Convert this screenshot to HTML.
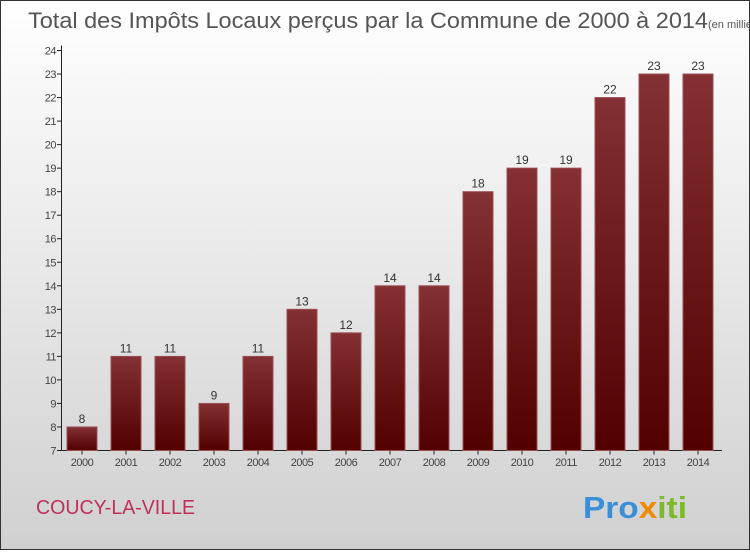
<!DOCTYPE html>
<html><head><meta charset="utf-8"><style>
body{margin:0;width:750px;height:550px;overflow:hidden;font-family:"Liberation Sans",sans-serif}
</style></head><body>
<svg width="750" height="550" xmlns="http://www.w3.org/2000/svg">
<defs>
<linearGradient id="bg" x1="0" y1="0" x2="0" y2="1"><stop offset="0" stop-color="#ffffff"/><stop offset="1" stop-color="#d0d0d0"/></linearGradient>
<linearGradient id="bar" x1="0" y1="0" x2="0" y2="1"><stop offset="0" stop-color="#843034"/><stop offset="1" stop-color="#520000"/></linearGradient>
</defs>
<rect x="0.5" y="0.5" width="749" height="549" fill="url(#bg)" stroke="#333"/>
<text x="28" y="28" font-size="22" fill="#555"><tspan textLength="680" lengthAdjust="spacingAndGlyphs">Total des Impôts Locaux perçus par la Commune de 2000 à 2014</tspan><tspan font-size="11">(en milliers d'€)</tspan></text>
<g id="axes"></g><g id="bars"></g>
<text x="36" y="514" font-size="20" fill="#c0305a" textLength="159" lengthAdjust="spacingAndGlyphs">COUCY-LA-VILLE</text>
<text x="583" y="518" font-size="31" font-weight="bold" textLength="104" lengthAdjust="spacingAndGlyphs"><tspan fill="#3a8fd8">Pro</tspan><tspan fill="#f08a00">x</tspan><tspan fill="#7cba2a">iti</tspan></text>
</svg>
<script>
const categories=["2000","2001","2002","2003","2004","2005","2006","2007","2008","2009","2010","2011","2012","2013","2014"];
const values=[8,11,11,9,11,13,12,14,14,18,19,19,22,23,23];
const yTicks=[7,8,9,10,11,12,13,14,15,16,17,18,19,20,21,22,23,24];
const NS="http://www.w3.org/2000/svg";
const y0=450.5,yMin=7,yMax=24,yTop=50.5;
const y=v=>y0-(v-yMin)*(y0-yTop)/(yMax-yMin);
const x=i=>82+i*44;
const ax=document.getElementById('axes'),bg=document.getElementById('bars');
function el(t,a,p){const e=document.createElementNS(NS,t);for(const k in a)e.setAttribute(k,a[k]);p.appendChild(e);return e;}
let l=el('line',{x1:61.5,y1:yTop-5,x2:61.5,y2:y0,stroke:'#222'},ax);

l=el('line',{x1:61.5,y1:y0,x2:722,y2:y0,stroke:'#222'},ax);

yTicks.forEach(v=>{
 const t=el('line',{x1:57,x2:61.5,y1:y(v),y2:y(v),stroke:'#222'},ax);
 
 const tx=el('text',{x:56,y:y(v)+4,'font-size':11,fill:'#444','text-anchor':'end','letter-spacing':'-0.5'},ax);tx.textContent=v;
 
});
categories.forEach((c,i)=>{
 const t=el('line',{x1:x(i),x2:x(i),y1:y0,y2:y0+4,stroke:'#222'},ax);
 
 const tx=el('text',{x:x(i),y:466,'font-size':11,fill:'#444','text-anchor':'middle','letter-spacing':'-0.5'},ax);tx.textContent=c;
 
 const r=el('rect',{x:x(i)-15,y:y(values[i]),width:30,height:y0-y(values[i]),fill:'url(#bar)',stroke:'#9a5055','stroke-width':1},bg);
 
 const vl=el('text',{x:x(i),y:y(values[i])-4,'font-size':12,fill:'#333','text-anchor':'middle'},bg);vl.textContent=values[i];
 
});
</script>
</body></html>
